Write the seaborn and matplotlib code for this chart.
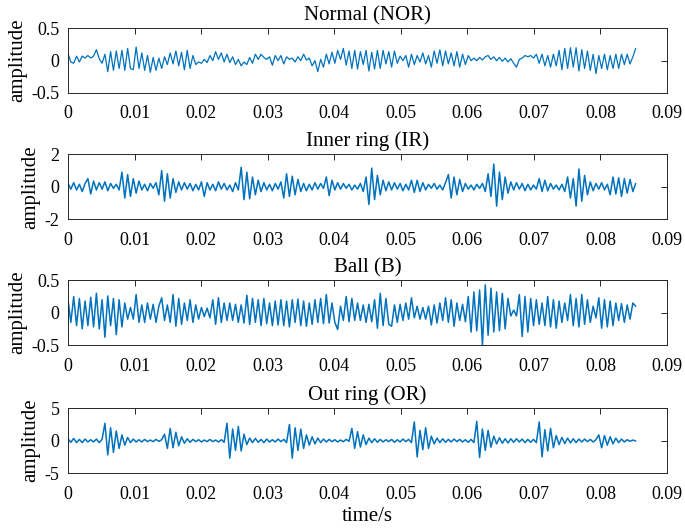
import numpy as np
import matplotlib
matplotlib.use("Agg")
import matplotlib.pyplot as plt
import seaborn as sns
from matplotlib.ticker import FixedLocator, FixedFormatter

# ---------------- data ----------------
duration = 0.0853  # s, length of each record

titles = ["Normal (NOR)", "Inner ring (IR)", "Ball (B)", "Out ring (OR)"]

nor = [0.11, -0.02, -0.04, 0.07, -0.02, 0.07, 0.04, 0.08, 0.04, 0.07,
       0.17, 0.03, -0.04, 0.10, -0.17, 0.14, -0.15, 0.15, -0.12, 0.16,
       -0.15, 0.19, -0.12, -0.14, 0.21, -0.12, 0.12, -0.15, 0.08, -0.18,
       0.05, -0.15, 0.04, -0.12, 0.06, -0.06, 0.12, -0.05, 0.15, -0.08,
       0.13, -0.14, 0.16, -0.12, 0.08, -0.06, -0.02, -0.04, 0.02, -0.03,
       0.08, 0.00, 0.14, 0.02, 0.12, -0.02, 0.10, -0.03, 0.06, -0.06,
       0.02, -0.08, -0.02, -0.06, 0.05, -0.04, 0.10, 0.02, 0.10,
       0.05, 0.02, 0.06, -0.07, 0.08, 0.00, 0.08, -0.05, 0.06, 0.02,
       0.04, -0.02, 0.06, 0.00, 0.10, 0.01, 0.04, -0.08, 0.00, -0.17,
       0.02, -0.10, 0.10, -0.05, 0.13, -0.04, 0.16, 0.02, 0.19, -0.07,
       0.15, -0.12, 0.16, -0.13, 0.14, -0.06, 0.16, -0.16, 0.13, -0.13,
       0.16, -0.12, 0.16, -0.05, 0.14, -0.10, 0.15, -0.04, 0.07, 0.00,
       0.08, -0.10, 0.10, -0.06, 0.08, -0.02, 0.12, -0.05, 0.08, -0.10,
       0.15, -0.04, 0.17, -0.08, 0.15, -0.05,
       0.12, -0.08, 0.14, -0.10, 0.10, -0.06, 0.08, 0.00, 0.04, 0.00,
       0.05, 0.01, 0.06, 0.08, 0.02, 0.06, 0.00, 0.05, -0.01, 0.04,
       -0.02, 0.03, -0.04, -0.10, 0.02, 0.04, 0.08, 0.06, 0.08, 0.04,
       0.10, -0.04, 0.10, -0.08, 0.08, -0.10, 0.10, -0.08, 0.16, -0.14,
       0.19, -0.12, 0.20, -0.10, 0.20, -0.16, 0.17, -0.12, 0.15, -0.15,
       0.10, -0.20, 0.08, -0.12, 0.10, -0.14, 0.08, -0.12, 0.10, -0.12,
       0.10, -0.06, 0.10, -0.05, 0.06, 0.19]

ir = [0.2, -0.15, 0.25, -0.2, 0.15, -0.3, 0.2,
      0.5, -0.45, 0.35,
      -0.2, 0.25, -0.15, 0.3, -0.25, 0.2, -0.1, 0.15, -0.2,
      0.9, -0.7, 0.75, -0.6, 0.5, -0.4, 0.35,
      -0.2, 0.15, -0.25, 0.2, -0.1, 0.25,
      -0.5, 1.0, -0.9, 0.8, -0.7, 0.5, -0.35,
      0.3, -0.2, 0.25, -0.15, 0.2, -0.25, 0.15, -0.2, 0.3,
      -0.6,
      0.25, -0.2, 0.15, -0.25, 0.3, -0.15, 0.2, -0.2, 0.1, -0.3, 0.25, -0.2,
      1.2, -0.8, 0.9, -0.75, 0.6, -0.5, 0.4, -0.3,
      0.25, -0.2, 0.15, -0.25, 0.2, -0.15, 0.3,
      -0.7, 0.8, -0.6, 0.65, -0.5, 0.45, -0.3,
      0.2, -0.25, 0.15, -0.2, 0.25, -0.15, 0.2, -0.1,
      0.6, -0.55, 0.4,
      -0.2, 0.25, -0.15, 0.2, -0.1, 0.15, -0.2, 0.1, -0.15, 0.2, -0.3,
      0.6, -1.1, 1.15, -0.8, 0.7, -0.5, 0.4,
      -0.25, 0.3, -0.2, 0.25, -0.15, 0.2, -0.25, 0.15, -0.2,
      0.4, -0.35, 0.4, -0.3, 0.25,
      -0.2, 0.15, -0.1, 0.2, -0.15, 0.1, -0.2, 0.25,
      0.75, -0.7, 0.6, -0.5, 0.45, -0.3,
      0.2, -0.15, 0.1, -0.2, 0.15, -0.1, 0.2, -0.3,
      0.8, -0.6, 1.4, -1.2, 0.9, -0.8, 0.6, -0.4,
      0.3, -0.2, 0.25, -0.15, 0.2, -0.25, 0.15, -0.2, 0.1, -0.15,
      0.5, -0.3, 0.4, -0.25,
      0.2, -0.15, 0.1, -0.2, 0.15, -0.3,
      0.6, -0.7, 0.5, -1.2, 1.1, -0.9, 0.7, -0.5,
      0.3, -0.25, 0.2, -0.15, 0.25, -0.2, 0.15,
      -0.5, 0.6, -0.45, 0.55, -0.6, 0.5, -0.4, 0.45, -0.3,
      0.2]

ball = [0.2, -0.15, 0.25, -0.2, 0.22, -0.25, 0.18, -0.2, 0.24,
        -0.22, 0.3, -0.25, 0.2, -0.38, 0.26, -0.2, 0.22, -0.34,
        0.2, -0.22, 0.15,
        -0.1, 0.08, -0.1,
        0.28, -0.15,
        0.12, -0.15, 0.15, -0.1, 0.13, -0.15, 0.1,
        0.23,
        -0.12, 0.12, -0.15,
        0.28, -0.21, 0.22, -0.18,
        0.15, -0.12, 0.2, -0.15, 0.12, -0.1,
        0.08, -0.06, 0.07, -0.08,
        0.2, -0.18, 0.23, -0.15, 0.15, -0.12,
        0.15, -0.12, 0.13, -0.15, 0.12,
        -0.16, 0.27, -0.18, 0.22, -0.15, 0.2,
        -0.2, 0.22, -0.17, 0.15, -0.2, 0.18, -0.19, 0.2,
        -0.2, 0.18, -0.22, 0.2, -0.15, 0.21, -0.2, 0.18, -0.21, 0.15, -0.18, 0.2,
        -0.15, 0.22, -0.17, 0.28, -0.16, 0.15, -0.15,
        -0.26, 0.1,
        -0.12, 0.25, -0.14, 0.22, -0.12,
        0.15, -0.12, 0.12, -0.15, 0.13, -0.14,
        0.2, -0.24, 0.3, -0.2, 0.22, -0.18,
        -0.21, 0.12, -0.15, 0.13, -0.12, 0.15,
        -0.1, 0.23,
        -0.08, 0.1, -0.1, 0.08, -0.1, 0.1,
        -0.19, 0.12, -0.16, 0.15,
        -0.12, 0.23, -0.15, 0.2,
        -0.21, 0.15, -0.12, 0.13, -0.14,
        0.25, -0.3, 0.32, -0.28, 0.35, -0.5, 0.43, -0.35, 0.38, -0.3,
        0.32, -0.28, 0.3, -0.25, 0.22,
        -0.05, 0.04, -0.05,
        0.28, -0.37, 0.25, -0.3, 0.22, -0.2,
        0.2, -0.18, 0.15, -0.2,
        0.25, -0.22, 0.2, -0.24, 0.18,
        -0.15, 0.15, -0.12,
        0.28, -0.2, 0.22, -0.22, 0.28, -0.18, 0.2, -0.15,
        0.1, -0.08,
        0.23, -0.24, 0.2, -0.22, 0.18, -0.2,
        0.15, -0.12, 0.14, -0.15, 0.12, -0.1, 0.15, 0.1]

outer = [0.3, -0.25, 0.35, -0.3, 0.2, -0.3, 0.25, -0.2, 0.15, -0.2, 0.25, -0.3, 0.2,
         2.7, -2.2, 2.0, -1.8, 1.5, -1.2, 0.9, -0.7, 0.5,
         -0.3, 0.25, -0.2, 0.15, -0.2, 0.2, -0.15, 0.1, -0.15, 0.2, -0.1, 0.15,
         1.0, -1.2, 1.9, -1.1, 1.3, -0.8, 0.6, -0.4,
         0.3, -0.25, 0.2, -0.15, 0.15, -0.2, 0.1, -0.15, 0.2, -0.15, 0.1, -0.2, 0.15, -0.25,
         2.7, -2.7, 1.8, -1.5, 2.2, -1.6, 1.0, -0.6,
         0.4, -0.3, 0.35, -0.25, 0.2, -0.3, 0.25, -0.2, 0.15, -0.2, 0.25, -0.15, 0.2, -0.3,
         2.5, -2.7, 2.0, -1.5, 1.8, -1.2, 0.9, -0.7, 0.6, -0.5, 0.4,
         -0.3, 0.25, -0.2, 0.2, -0.15, 0.15, -0.2, 0.1, -0.15, 0.2, -0.1,
         1.9, -1.2, 1.4, -1.0, 0.9, -0.6, 0.4,
         -0.3, 0.3, -0.25, 0.2, -0.2, 0.15, -0.15, 0.2, -0.25, 0.15, -0.2, 0.25, -0.15, 0.2, -0.3,
         2.9, -2.5, 1.6, -1.4, 2.0, -1.2, 0.7,
         -0.5, 0.4, -0.3, 0.3, -0.25, 0.2, -0.2, 0.25, -0.15, 0.2, -0.2, 0.15, -0.25, 0.2, -0.3,
         3.0, -2.6, 1.8, -1.5, 1.6, -1.0, 0.7,
         -0.5, 0.45, -0.4, 0.3, -0.35, 0.3, -0.25, 0.3, -0.2, 0.25, -0.3, 0.2, -0.25, 0.2, -0.3,
         2.9, -2.5, 1.7, -1.6, 1.9, -1.1, 0.8,
         -0.6, 0.5, -0.45, 0.4, -0.35, 0.3, -0.3, 0.25, -0.2, 0.25, -0.15, 0.2, -0.2, 0.15,
         0.9, -1.1, 0.8, -0.7, 0.6, -0.5, 0.4,
         -0.3, 0.25, -0.2, 0.15, -0.1, 0.1, -0.05]

signals = [nor, ir, ball, outer]

x_ticks = [0, 0.01, 0.02, 0.03, 0.04, 0.05, 0.06, 0.07, 0.08, 0.09]
x_ticklabels = ["0", "0.01", "0.02", "0.03", "0.04", "0.05", "0.06", "0.07", "0.08", "0.09"]
y_ticks = [[-0.5, 0, 0.5], [-2, 0, 2], [-0.5, 0, 0.5], [-5, 0, 5]]
y_ticklabels = [["-0.5", "0", "0.5"], ["-2", "0", "2"], ["-0.5", "0", "0.5"], ["-5", "0", "5"]]
y_limits = [(-0.5, 0.5), (-2, 2), (-0.5, 0.5), (-5, 5)]

# ---------------- style ----------------
sns.set_theme(style="white")
plt.rcParams["font.family"] = ["Liberation Serif", "DejaVu Serif"]
plt.rcParams["axes.unicode_minus"] = False

line_color = "#0072BD"
frame_color = "#262626"
line_widths = [0.9, 1.1, 1.1, 1.1]

fig = plt.figure(figsize=(6.85, 5.32), dpi=100)
left, width = 0.0993, 0.8744
bottoms = [0.8252, 0.5883, 0.3515, 0.1109]
height = 0.1215

for k in range(4):
    ax = fig.add_axes([left, bottoms[k], width, height])
    vals = np.asarray(signals[k], dtype=float)
    t = np.linspace(0, duration, len(vals))
    sns.lineplot(x=t, y=vals, ax=ax, color=line_color, linewidth=line_widths[k],
                 estimator=None, sort=False)
    ax.set_xlim(0, 0.09)
    ax.set_ylim(*y_limits[k])
    ax.xaxis.set_major_locator(FixedLocator(x_ticks))
    ax.xaxis.set_major_formatter(FixedFormatter(x_ticklabels))
    ax.yaxis.set_major_locator(FixedLocator(y_ticks[k]))
    ax.yaxis.set_major_formatter(FixedFormatter(y_ticklabels[k]))
    ax.tick_params(direction="in", length=4, width=0.7, colors=frame_color,
                   labelsize=13, top=True, right=True, labelcolor="black")
    ax.tick_params(axis="x", pad=9)
    ax.tick_params(axis="y", pad=6)
    for sp in ax.spines.values():
        sp.set_color(frame_color)
        sp.set_linewidth(0.7)
    ax.set_title(titles[k], fontsize=15, pad=6, color="black")
    ax.set_ylabel("amplitude", fontsize=15, labelpad=3, color="black")
    ax.set_xlabel("")
    ax.grid(False)

ax.set_xlabel("time/s", fontsize=15, labelpad=3, color="black")

fig.savefig("out.png", dpi=100)
